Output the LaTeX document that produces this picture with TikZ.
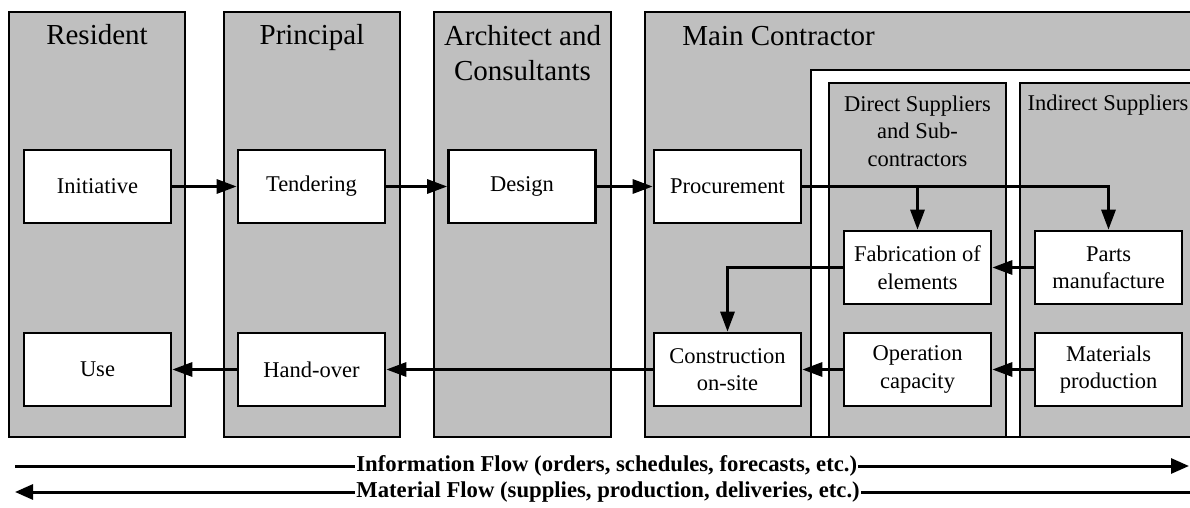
\documentclass[tikz,border=0pt]{standalone}
\usepackage{fontspec}
\setmainfont{Liberation Serif}
\usetikzlibrary{arrows.meta}
\definecolor{lane}{RGB}{191,191,191}

\begin{document}
\begin{tikzpicture}[x=0.5pt,y=-0.5pt]
        \tikzstyle{every node}=[font=\fontsize{11.25}{13.75}\selectfont]
        \tikzstyle{task}=[draw=black,fill=white,line width=1.3pt,minimum width=73.5pt,minimum height=36.5pt,align=center,inner sep=0pt]
        \tikzstyle{lanehead}=[font=\fontsize{14.5}{17.5}\selectfont,align=center,inner sep=0pt]
        \tikzstyle{subhead}=[align=center,inner sep=0pt]
        \tikzstyle{arr}=[line width=1.5pt,-{Triangle[length=10pt,width=7pt]}]
        \tikzstyle{flowline}=[line width=1.5pt]
        \tikzstyle{flowtext}=[font=\bfseries\fontsize{11.35}{13}\selectfont,fill=white,inner sep=0.5pt,anchor=west]
        \useasboundingbox (0,0) rectangle (1190,508);
        \begin{scope}
           % lanes
           \filldraw[lane,draw=black,line width=1pt] (9,12) rectangle (185,437);
           \filldraw[lane,draw=black,line width=1pt] (224,12) rectangle (400,437);
           \filldraw[lane,draw=black,line width=1pt] (434,12) rectangle (611,437);
           \filldraw[lane,draw=black,line width=1pt] (645,12) rectangle (1196,437);
           \filldraw[white,draw=black,line width=1pt] (811,70) rectangle (1196,437);
           \filldraw[lane,draw=black,line width=1pt] (829,83) rectangle (1006,437);
           \filldraw[lane,draw=black,line width=1pt] (1020,83) rectangle (1196,437);

           % lane titles
           \node[lanehead,anchor=base] (resident) at (97,45) {Resident};
           \node[lanehead,anchor=base] (principal) at (312,45) {Principal};
           \node[lanehead] (architect) at (522.5,53) {Architect and\\Consultants};
           \node[lanehead,anchor=base west] (mainc) at (682,45.5) {Main Contractor};
           \node[subhead] (direct) at (917.5,131) {Direct Suppliers\\and Sub-\\contractors};
           \node[subhead,anchor=base] (indirect) at (1108,110.5) {Indirect Suppliers};

           % activities
           \node[task] (init) at (97.5,186.5) {Initiative};
           \node[task] (tend) at (311.5,186.5) {Tendering};
           \node[task] (design) at (522,186.5) {Design};
           \node[task] (proc) at (727.5,186.5) {Procurement};
           \node[task] (fab) at (917.5,267.5) {Fabrication of\\elements};
           \node[task] (parts) at (1108.5,267.5) {Parts\\manufacture};
           \node[task] (cons) at (727.5,369.5) {Construction\\on-site};
           \node[task] (oper) at (917.5,369.5) {Operation\\capacity};
           \node[task] (mat) at (1108.5,369.5) {Materials\\production};
           \node[task] (handover) at (311.5,369.5) {Hand-over};
           \node[task] (use) at (97.5,369.5) {Use};

           \draw[arr] (init) -- (tend);
           \draw[arr] (tend) -- (design);
           \draw[arr] (design) -- (proc);
           \draw[arr] (proc.east) -| (parts.north);
           \draw[arr] (proc.east -| fab.north) -- (fab.north);
           \draw[arr] (parts) -- (fab);
           \draw[arr] (fab.west) -| (cons.north);
           \draw[arr] (mat) -- (oper);
           \draw[arr] (oper) -- (cons);
           \draw[arr] (cons) -- (handover);
           \draw[arr] (handover) -- (use);

           % flows
           \coordinate (infoL) at (15,466);
           \coordinate (infoR) at (1189,466);
           \coordinate (matL) at (15,492);
           \coordinate (matR) at (1190,492);
           \draw[flowline,-{Triangle[length=9pt,width=7.5pt]}] (infoL) -- (infoR);
           \draw[flowline,{Triangle[length=9pt,width=7.5pt]}-] (matL) -- (matR);
           \node[flowtext] (infotext) at (355,466) {Information Flow (orders, schedules, forecasts, etc.)};
           \node[flowtext] (mattext) at (355,492) {Material Flow (supplies, production, deliveries, etc.)};
     \end{scope}
\end{tikzpicture}
\end{document}
